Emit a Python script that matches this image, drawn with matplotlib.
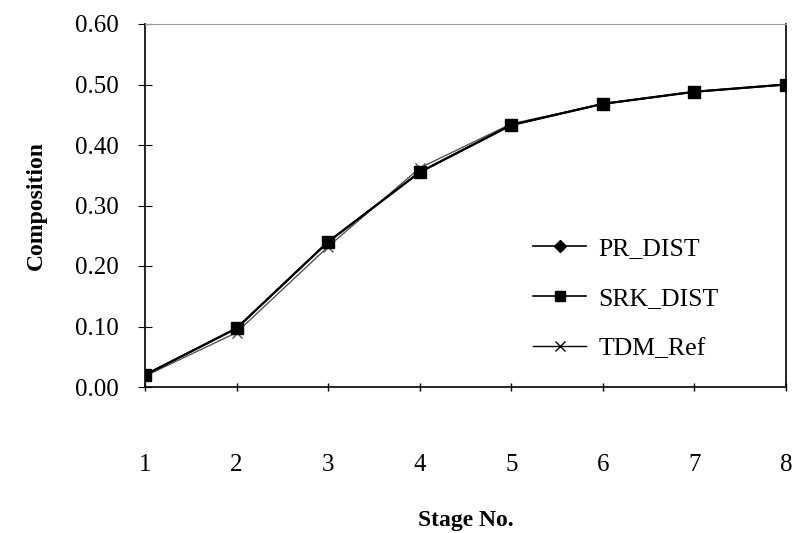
import matplotlib
matplotlib.use("Agg")
import matplotlib.pyplot as plt
from matplotlib.lines import Line2D

stages = [1, 2, 3, 4, 5, 6, 7, 8]
pr_dist = [0.020, 0.097, 0.240, 0.355, 0.433, 0.468, 0.488, 0.500]
srk_dist = [0.020, 0.097, 0.240, 0.355, 0.433, 0.468, 0.488, 0.500]
tdm_ref = [0.018, 0.090, 0.232, 0.362, 0.435, 0.468, 0.488, 0.500]
yticks = [0.0, 0.1, 0.2, 0.3, 0.4, 0.5, 0.6]

plt.rcParams['font.family'] = ['Liberation Serif', 'DejaVu Serif']

fig = plt.figure(figsize=(7.93, 5.33), dpi=100)
ax = fig.add_axes([145 / 793, 1 - 387 / 533, (786 - 145) / 793, (387 - 24) / 533])

ax.plot(stages, tdm_ref, color='#555555', lw=1.0, marker='x', ms=7, mew=1.0,
        zorder=2)
ax.plot(stages, pr_dist, color='black', lw=1.5, marker='D', ms=6, zorder=3)
ax.plot(stages, srk_dist, color='black', lw=1.5, marker='s', ms=8, zorder=4)

ax.set_xlim(1, 8)
ax.set_ylim(0, 0.6)
ax.set_xticks(stages)
ax.set_yticks(yticks)
ax.set_yticklabels([f"{v:.2f}" for v in yticks])
ax.tick_params(axis='x', direction='inout', length=6, width=1, pad=45, labelsize=18)
ax.tick_params(axis='y', direction='inout', length=10, width=0.8, pad=14, labelsize=18)

for s in ['left', 'bottom', 'right']:
    ax.spines[s].set_linewidth(1.2)
ax.spines['top'].set_color('#999999')
ax.spines['top'].set_linestyle((0, (1, 1)))

ax.set_ylabel('Composition', fontsize=17, fontweight='bold', labelpad=20)
ax.set_xlabel('Stage No.', fontsize=17, fontweight='bold')
ax.xaxis.set_label_coords(0.5, -0.34)

legend_handles = [
    Line2D([], [], color='black', lw=1.2, marker='D', ms=6),
    Line2D([], [], color='black', lw=1.2, marker='s', ms=7),
    Line2D([], [], color='black', lw=1.0, marker='x', ms=7, mew=1.0),
]
ax.legend(legend_handles, ['PR_DIST', 'SRK_DIST', 'TDM_Ref'],
          loc='lower left', bbox_to_anchor=(0.57, 0.011), frameon=False,
          fontsize=18.5, handlelength=2.05, labelspacing=1.05, handletextpad=0.47)

fig.savefig('out.png', dpi=100)
